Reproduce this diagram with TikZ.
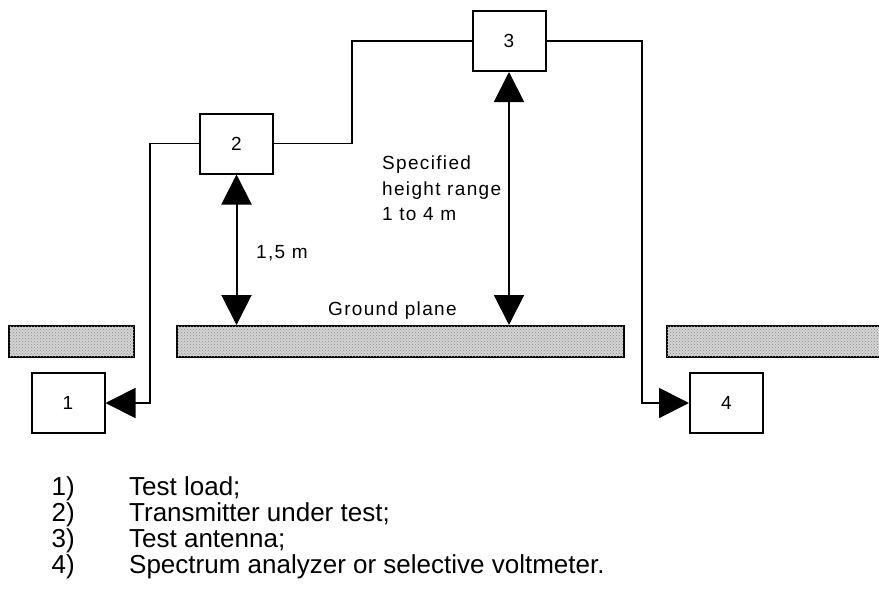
\documentclass[tikz,border=0pt]{standalone}
\usepackage{fontspec}
\setmainfont{Liberation Sans}
\newfontfamily\spaced[LetterSpace=7]{Liberation Sans}
\usetikzlibrary{arrows.meta,patterns}
\definecolor{platte}{HTML}{D4D4D4}
\definecolor{punkt}{HTML}{8C8C8C}
\tikzset{
  geraet/.style={draw,line width=2pt,minimum width=73pt,minimum height=60pt,inner sep=0pt,
    font=\fontsize{19}{22}\selectfont},
  ebene/.style={draw,line width=1.8pt,fill=platte,inner sep=0pt,
    postaction={pattern=crosshatch dots,pattern color=punkt}},
  kabel/.style={line width=1.5pt},
  kabelpfeil/.style={-{Triangle[length=30pt,width=30pt]},line width=1.8pt},
  mass/.style={{Triangle[length=30pt,width=30pt]}-{Triangle[length=30pt,width=30pt]},line width=2pt},
  beschr/.style={inner sep=0pt,font=\spaced\fontsize{19}{25.5}\selectfont},
  liste/.style={inner sep=0pt,font=\fontsize{26}{26}\selectfont},
}
\begin{document}
\begin{tikzpicture}[x=1pt,y=-1pt]
  \useasboundingbox (0,0) rectangle (879,592);
  % Bodenplatte
  \node[ebene,minimum width=125pt,minimum height=31pt,anchor=north west] (gpL) at (8,325) {};
  \node[ebene,minimum width=447pt,minimum height=31pt,anchor=north west] (gpM) at (176,325) {};
  \node[ebene,minimum width=230pt,minimum height=31pt,anchor=north west] (gpR) at (666,325) {};
  \node[beschr,anchor=base west] (gplabel) at (328,315) {Ground plane};
  % Geraete
  \node[geraet] (box1) at (68,403) {1};
  \node[geraet] (box2) at (236.5,143.5) {2};
  \node[geraet] (box3) at (509,41) {3};
  \node[geraet] (box4) at (726.5,403) {4};
  % Leitungen
  \coordinate (knickA) at (150,143.5);
  \coordinate (knickB) at (352,41);
  \coordinate (knickC) at (642,403);
  \draw[kabelpfeil] (box2.west) -- (knickA) |- (box1.east);
  \draw[kabel] (box2.east) -| (knickB) -- (box3.west);
  \draw[kabelpfeil] (box3.east) -| (knickC) -- (box4.west);
  % Hoehen
  \draw[mass] (box2.south) -- (box2.south |- gpM.north);
  \draw[mass] (box3.south) -- (box3.south |- gpM.north);
  \node[beschr,anchor=base west] (hoehe2) at (256,258) {1,5 m};
  \node[beschr,anchor=north west,align=left] (hoehe3) at (382,156)
    {Specified\\height range\\1 to 4 m};
  % Legende
  \foreach \n/\txt in {1/Test load;,2/Transmitter under test;,3/Test antenna;,
      4/Spectrum analyzer or selective voltmeter.}{
    \node[liste,anchor=base east] (nr\n) at (75,469+26*\n) {\n)};
    \node[liste,anchor=base west] (leg\n) at (129,469+26*\n) {\txt};
  }
\end{tikzpicture}
\end{document}
